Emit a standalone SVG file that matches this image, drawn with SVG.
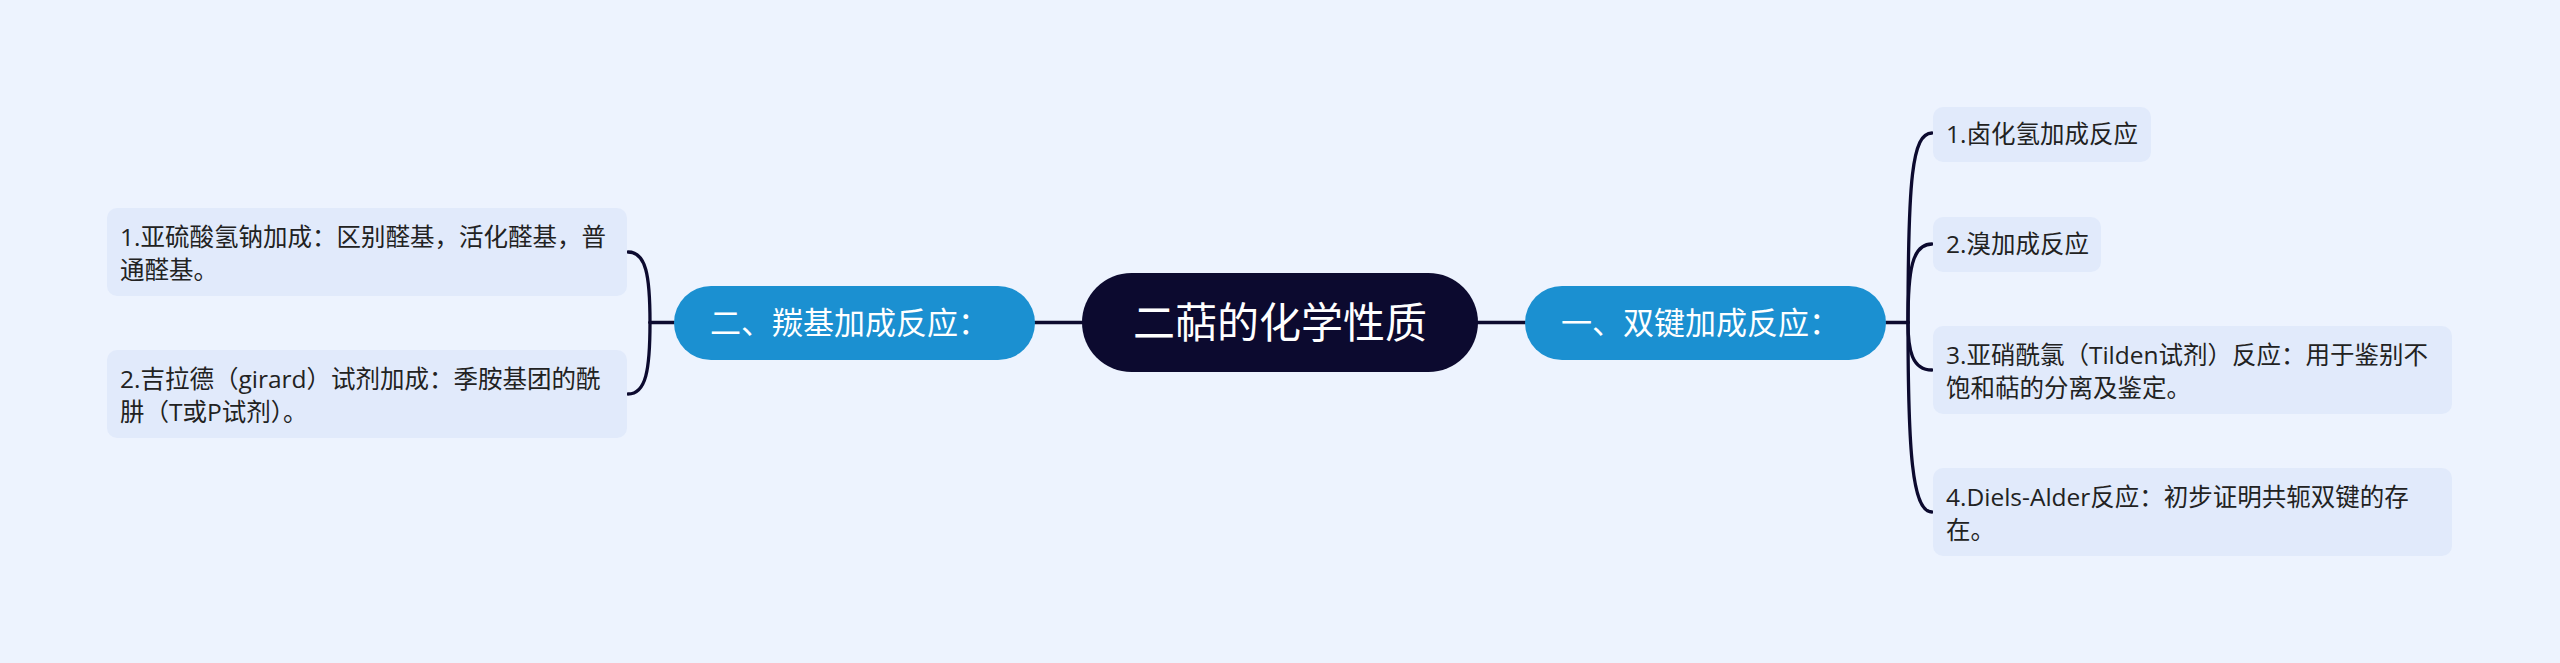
<svg xmlns="http://www.w3.org/2000/svg" width="2560" height="663" viewBox="0 0 2560 663">
<style>
.bg{fill:#edf3fe}
.root{fill:#0c0a2f}
.main{fill:#1b90d1}
.leaf{fill:#e1eafb}
.t{font-family:"Open Sans","Noto Sans CJK SC",sans-serif}
.rt{font-size:42px;fill:#ffffff}
.mt{font-size:31px;fill:#ffffff}
.lt{font-size:24.5px;fill:#222222}
.c{fill:none;stroke:#0c0a2f;stroke-width:3.3;stroke-linecap:round}
</style>
<rect class="bg" x="0" y="0" width="2560" height="663"/>
<g id="connectors">
<path class="c" d="M1035 322.5 H1082"/>
<path class="c" d="M1478 322.5 H1525"/>
<path class="c" d="M674 322.5 H650"/>
<path class="c" d="M650 322.5 C650 275 646 252 628 252"/>
<path class="c" d="M650 322.5 C650 370 646 394 628 394"/>
<path class="c" d="M1886 322.5 H1908"/>
<path class="c" d="M1908 322.5 C1908 180 1912 133 1932 133"/>
<path class="c" d="M1908 322.5 C1908 270 1912 244 1932 244"/>
<path class="c" d="M1908 322.5 C1908 350 1912 370 1932 370"/>
<path class="c" d="M1908 322.5 C1908 450 1912 512 1932 512"/>
</g>
<g id="root">
<rect class="root" x="1082" y="273" width="396" height="99" rx="49.5"/>
<text class="t rt" x="1280" y="338" text-anchor="middle">二萜的化学性质</text>
</g>
<g id="branch-left">
<rect class="main" x="674" y="286" width="361" height="74" rx="37"/>
<text class="t mt" x="710" y="334">二、羰基加成反应：</text>
</g>
<g id="branch-right">
<rect class="main" x="1525" y="286" width="361" height="74" rx="37"/>
<text class="t mt" x="1561" y="334">一、双键加成反应：</text>
</g>
<g id="left-1">
<rect class="leaf" x="107" y="208" width="520" height="88" rx="10"/>
<text class="t lt" x="120" y="246">1.亚硫酸氢钠加成：区别醛基，活化醛基，普</text>
<text class="t lt" x="120" y="279">通醛基。</text>
</g>
<g id="left-2">
<rect class="leaf" x="107" y="350" width="520" height="88" rx="10"/>
<text class="t lt" x="120" y="388">2.吉拉德（girard）试剂加成：季胺基团的酰</text>
<text class="t lt" x="120" y="421">肼（T或P试剂）。</text>
</g>
<g id="right-1">
<rect class="leaf" x="1933" y="107" width="218" height="55" rx="10"/>
<text class="t lt" x="1946" y="143">1.卤化氢加成反应</text>
</g>
<g id="right-2">
<rect class="leaf" x="1933" y="217" width="168" height="55" rx="10"/>
<text class="t lt" x="1946" y="253">2.溴加成反应</text>
</g>
<g id="right-3">
<rect class="leaf" x="1933" y="326" width="519" height="88" rx="10"/>
<text class="t lt" x="1946" y="364">3.亚硝酰氯（Tilden试剂）反应：用于鉴别不</text>
<text class="t lt" x="1946" y="397">饱和萜的分离及鉴定。</text>
</g>
<g id="right-4">
<rect class="leaf" x="1933" y="468" width="519" height="88" rx="10"/>
<text class="t lt" x="1946" y="506">4.Diels-Alder反应：初步证明共轭双键的存</text>
<text class="t lt" x="1946" y="539">在。</text>
</g>
</svg>
